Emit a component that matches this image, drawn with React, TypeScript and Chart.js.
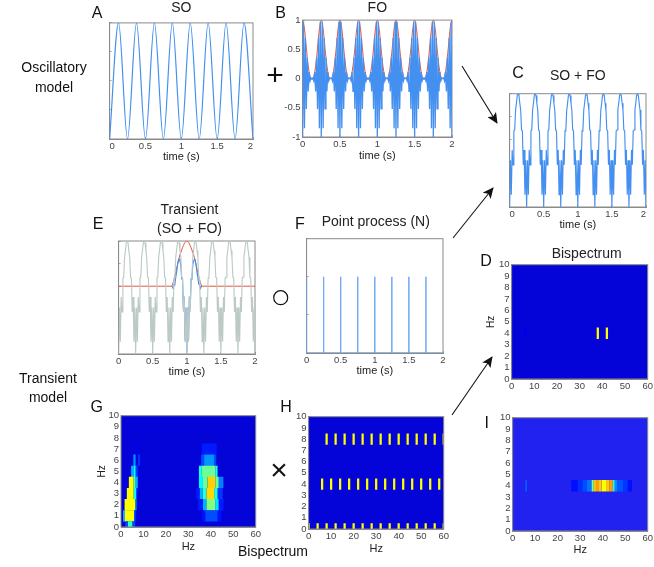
import React, { useEffect, useRef } from "react";
import { Chart, registerables } from "chart.js";

Chart.register(...registerables);

const BLUE = "#4490f0";
const RED = "#e2583c";
const GRAY_TRACE = "#bccac6";
const FRAME = "#8a8a8a";
const FONT = "'Liberation Sans', Arial, sans-serif";

const SO_TIME = [0, 0.125, 0.25, 0.375, 0.5, 0.625, 0.75, 0.875, 1, 1.125, 1.25, 1.375, 1.5, 1.625, 1.75, 1.875, 2];
const SO_VALUES = [-1, 1, -1, 1, -1, 1, -1, 1, -1, 1, -1, 1, -1, 1, -1, 1, -1];

const FO_STEP = 0.0125;
const FO_VALUES = [
  -1, 0.97, -0.85, 0.7, -0.52, 0.36, -0.22, 0.11, -0.04, 0.01, 0, 0.01, -0.04, 0.11, -0.22, 0.36, -0.52, 0.7, -0.85, 0.97,
  -1, 0.97, -0.85, 0.7, -0.52, 0.36, -0.22, 0.11, -0.04, 0.01, 0, 0.01, -0.04, 0.11, -0.22, 0.36, -0.52, 0.7, -0.85, 0.97,
  -1, 0.97, -0.85, 0.7, -0.52, 0.36, -0.22, 0.11, -0.04, 0.01, 0, 0.01, -0.04, 0.11, -0.22, 0.36, -0.52, 0.7, -0.85, 0.97,
  -1, 0.97, -0.85, 0.7, -0.52, 0.36, -0.22, 0.11, -0.04, 0.01, 0, 0.01, -0.04, 0.11, -0.22, 0.36, -0.52, 0.7, -0.85, 0.97,
  -1, 0.97, -0.85, 0.7, -0.52, 0.36, -0.22, 0.11, -0.04, 0.01, 0, 0.01, -0.04, 0.11, -0.22, 0.36, -0.52, 0.7, -0.85, 0.97,
  -1, 0.97, -0.85, 0.7, -0.52, 0.36, -0.22, 0.11, -0.04, 0.01, 0, 0.01, -0.04, 0.11, -0.22, 0.36, -0.52, 0.7, -0.85, 0.97,
  -1, 0.97, -0.85, 0.7, -0.52, 0.36, -0.22, 0.11, -0.04, 0.01, 0, 0.01, -0.04, 0.11, -0.22, 0.36, -0.52, 0.7, -0.85, 0.97,
  -1, 0.97, -0.85, 0.7, -0.52, 0.36, -0.22, 0.11, -0.04, 0.01, 0, 0.01, -0.04, 0.11, -0.22, 0.36, -0.52, 0.7, -0.85, 0.97,
  -1,
];

const ENV_STEP = 0.025;
const FO_ENVELOPE = [
  1, 0.85, 0.52, 0.22, 0.04, 0, 0.04, 0.22, 0.52, 0.85,
  1, 0.85, 0.52, 0.22, 0.04, 0, 0.04, 0.22, 0.52, 0.85,
  1, 0.85, 0.52, 0.22, 0.04, 0, 0.04, 0.22, 0.52, 0.85,
  1, 0.85, 0.52, 0.22, 0.04, 0, 0.04, 0.22, 0.52, 0.85,
  1, 0.85, 0.52, 0.22, 0.04, 0, 0.04, 0.22, 0.52, 0.85,
  1, 0.85, 0.52, 0.22, 0.04, 0, 0.04, 0.22, 0.52, 0.85,
  1, 0.85, 0.52, 0.22, 0.04, 0, 0.04, 0.22, 0.52, 0.85,
  1, 0.85, 0.52, 0.22, 0.04, 0, 0.04, 0.22, 0.52, 0.85,
  1,
];

const SUM_VALUES = [
  -1.5, -0.47, -1.23, -0.24, -0.57, 0.18, 0.2, 0.64, 0.79, 0.96, 1, 0.96, 0.79, 0.64, 0.2, 0.18, -0.57, -0.24, -1.23, -0.47,
  -1.5, -0.47, -1.23, -0.24, -0.57, 0.18, 0.2, 0.64, 0.79, 0.96, 1, 0.96, 0.79, 0.64, 0.2, 0.18, -0.57, -0.24, -1.23, -0.47,
  -1.5, -0.47, -1.23, -0.24, -0.57, 0.18, 0.2, 0.64, 0.79, 0.96, 1, 0.96, 0.79, 0.64, 0.2, 0.18, -0.57, -0.24, -1.23, -0.47,
  -1.5, -0.47, -1.23, -0.24, -0.57, 0.18, 0.2, 0.64, 0.79, 0.96, 1, 0.96, 0.79, 0.64, 0.2, 0.18, -0.57, -0.24, -1.23, -0.47,
  -1.5, -0.47, -1.23, -0.24, -0.57, 0.18, 0.2, 0.64, 0.79, 0.96, 1, 0.96, 0.79, 0.64, 0.2, 0.18, -0.57, -0.24, -1.23, -0.47,
  -1.5, -0.47, -1.23, -0.24, -0.57, 0.18, 0.2, 0.64, 0.79, 0.96, 1, 0.96, 0.79, 0.64, 0.2, 0.18, -0.57, -0.24, -1.23, -0.47,
  -1.5, -0.47, -1.23, -0.24, -0.57, 0.18, 0.2, 0.64, 0.79, 0.96, 1, 0.96, 0.79, 0.64, 0.2, 0.18, -0.57, -0.24, -1.23, -0.47,
  -1.5, -0.47, -1.23, -0.24, -0.57, 0.18, 0.2, 0.64, 0.79, 0.96, 1, 0.96, 0.79, 0.64, 0.2, 0.18, -0.57, -0.24, -1.23, -0.47,
  -1.5,
];

const TRANSIENT_START = 0.775;
const TRANSIENT_VALUES = [
  0, -0.01, -0.05, 0.03, 0.04, 0.19, 0.3, 0.45, 0.56, 0.6, 0.55, 0.47, 0.16, 0.15, -0.51, -0.23, -1.19, -0.47,
  -1.5,
  -0.47, -1.19, -0.23, -0.51, 0.15, 0.16, 0.47, 0.55, 0.6, 0.56, 0.45, 0.3, 0.19, 0.04, 0.03, -0.05, -0.01, 0,
];
const WINDOW_TIME = [0, 0.775, 0.8, 0.825, 0.85, 0.875, 0.9, 0.925, 0.95, 0.975, 1, 1.025, 1.05, 1.075, 1.1, 1.125, 1.15, 1.175, 1.2, 1.225, 2];
const WINDOW_VALUES = [0, 0, 0.08, 0.22, 0.38, 0.56, 0.69, 0.8, 0.9, 0.97, 1, 0.97, 0.9, 0.8, 0.69, 0.56, 0.38, 0.22, 0.08, 0, 0];

const SPIKE_TIMES = [0, 0.25, 0.5, 0.75, 1, 1.25, 1.5, 1.75];
const SPIKE_HEIGHT = 1;

// Bispectrum runs: [row frequency, from Hz, to Hz, colour level 0..1]
const D_RUNS = [
  [4, 5.5, 6.5, 0.1],
  [4, 37.5, 38.5, 0.625],
  [4, 41.5, 42.5, 0.625],
];
const G_RUNS = [
  [0, 2, 3, 0.2], [0, 3, 5, 0.42], [0, 5, 6.3, 0.2],
  [1, 1, 1.6, 0.35], [1, 1.6, 5.8, 0.625], [1, 5.8, 6.5, 0.2],
  [2, 1.6, 6.3, 0.625], [2, 6.3, 7, 0.25],
  [3, 2.6, 5.6, 0.625], [3, 5.6, 6.8, 0.38], [3, 6.8, 7.3, 0.15],
  [4, 3.5, 5.6, 0.625], [4, 5.6, 6.5, 0.45], [4, 6.5, 7.5, 0.3],
  [5, 4.5, 5.5, 0.3], [5, 5.5, 6.5, 0.38], [5, 6.5, 7.5, 0.18],
  [6, 5.5, 6.5, 0.27], [6, 7.5, 8.5, 0.17],
  [7, 6.5, 7.5, 0.11],
  [1, 36, 37.5, 0.14], [1, 37.5, 43, 0.2], [1, 43, 44.8, 0.14],
  [2, 34.3, 36.5, 0.15], [2, 36.5, 38, 0.3], [2, 38, 42, 0.5], [2, 42, 43.5, 0.35], [2, 43.5, 45.7, 0.15],
  [3, 33.5, 35, 0.15], [3, 35, 36.5, 0.3], [3, 36.5, 38, 0.42], [3, 38, 41.5, 0.66], [3, 41.5, 43, 0.4], [3, 43, 45.3, 0.18],
  [4, 34.7, 36.5, 0.37], [4, 36.5, 38.5, 0.48], [4, 38.5, 42, 0.67], [4, 42, 43.5, 0.48], [4, 43.5, 45.6, 0.25],
  [5, 34.7, 36, 0.4], [5, 36, 42, 0.48], [5, 42, 43, 0.4],
  [6, 35.7, 37, 0.2], [6, 37, 41.5, 0.27], [6, 41.5, 42.4, 0.2],
  [7, 36, 42.6, 0.15],
];
const H_ROW0_HZ = [0, 4, 8, 12, 16, 20, 24, 28, 32, 36, 40, 44, 48, 52, 56, 60];
const H_ROW4_HZ = [6, 10, 14, 18, 22, 26, 30, 34, 38, 42, 46, 50, 54, 58];
const H_ROW8_HZ = [8, 12, 16, 20, 24, 28, 32, 36, 40, 44, 48, 52, 56, 60];
const H_LEVEL = 0.625;
const I_RUNS = [
  [4, 5.7, 6.3, 0.23],
  [4, 26, 29, 0.14], [4, 29, 31, 0.17], [4, 31, 33, 0.2], [4, 33, 35, 0.24], [4, 35, 36, 0.5], [4, 36, 37, 0.68],
  [4, 37, 38, 0.72], [4, 38, 39.5, 0.68], [4, 39.5, 41.5, 0.62], [4, 41.5, 43, 0.68], [4, 43, 44.5, 0.72],
  [4, 44.5, 45.3, 0.4], [4, 45.3, 46.5, 0.26], [4, 46.5, 49, 0.21], [4, 49, 51, 0.18], [4, 51, 53, 0.14],
];

const HZ_TICKS_X = 10;
const HZ_TICKS_Y = 1;

const clamp = (v: number) => Math.max(0, Math.min(1, v));
const jet = (v: number) => {
  const c = (d: number) => Math.round(255 * clamp(1.5 - Math.abs(4 * v - d)));
  return `rgb(${c(3)},${c(2)},${c(1)})`;
};

const xy = (xs: number[], ys: number[]) => xs.map((x, i) => ({ x, y: ys[i] }));
const sampled = (start: number, step: number, ys: number[]) => ys.map((y, i) => ({ x: start + i * step, y }));

const line = (data: any[], color: string, width: number, smooth = false) => ({
  data,
  borderColor: color,
  borderWidth: width,
  showLine: true,
  pointRadius: 0,
  ...(smooth ? { cubicInterpolationMode: "monotone" } : {}),
});

const heat = (runs: number[][], cellPx: number) =>
  runs.map(([y, a, b, level]) => ({
    data: [{ x: a, y }, { x: b, y }],
    borderColor: jet(level),
    borderWidth: cellPx,
    showLine: true,
    pointRadius: 0,
    clip: 0,
  }));

const marks = (y: number, hz: number[]) => hz.map((f) => [y, f - 0.5, f + 0.5, H_LEVEL]);

const spikeData = SPIKE_TIMES.flatMap((t) => [{ x: t, y: 0 }, { x: t, y: SPIKE_HEIGHT }, { x: t, y: 0 }]).concat([{ x: 2, y: 0 }]);

type PanelSpec = {
  key: string; x: number; y: number; w: number; h: number;
  datasets: any[]; xMax: number; xStep: number; yMin: number; yMax: number; yStep: number;
  yLabels?: boolean; yTitle?: string; xTitle?: string; inner?: boolean;
  title?: string | string[]; titlePad?: number; titleDx?: number; bg?: string; xh: number; yw?: number;
};

const TIME = { xMax: 2, xStep: 0.5 };
const HZ = { xMax: 60, xStep: HZ_TICKS_X, yMin: 0, yMax: 10, yStep: HZ_TICKS_Y, yLabels: true };
const CELL = 11.4;

const PANELS: PanelSpec[] = [
  { key: "A", x: 109.3, y: 22.7, w: 143, h: 115.6, ...TIME, yMin: -1, yMax: 1, yStep: 0.5, inner: true, xTitle: "time (s)", title: "SO", titlePad: 5, xh: 25,
    datasets: [line(xy(SO_TIME, SO_VALUES), BLUE, 1.2, true)] },
  { key: "B", x: 302.3, y: 20, w: 149.4, h: 117.3, ...TIME, yMin: -1, yMax: 1, yStep: 0.5, yLabels: true, xTitle: "time (s)", title: "FO", titlePad: 2.2, xh: 26,
    datasets: [line(sampled(0, FO_STEP, FO_VALUES), BLUE, 1.3), line(sampled(0, ENV_STEP, FO_ENVELOPE), RED, 1, true)] },
  { key: "C", x: 510, y: 94, w: 136, h: 113.3, ...TIME, yMin: -1.5, yMax: 1, yStep: 0.5, inner: true, xTitle: "time (s)", title: "SO + FO", titlePad: 7.8, xh: 25,
    datasets: [line(sampled(0, FO_STEP, SUM_VALUES), BLUE, 1.15)] },
  { key: "D", x: 511.3, y: 264.3, w: 137, h: 114, ...HZ, yTitle: "Hz", title: "Bispectrum", titlePad: 0.8, titleDx: 7, bg: "#0404d8", xh: 20,
    datasets: heat(D_RUNS, CELL) },
  { key: "E", x: 118.3, y: 240.7, w: 136.7, h: 112.6, ...TIME, yMin: -1.5, yMax: 1, yStep: 0.5, xTitle: "time (s)", title: ["Transient", "(SO + FO)"], titlePad: 2.2, titleDx: 2.7, xh: 25,
    datasets: [line(sampled(0, FO_STEP, SUM_VALUES), GRAY_TRACE, 1.15), line(sampled(TRANSIENT_START, FO_STEP, TRANSIENT_VALUES), BLUE, 1.15), line(xy(WINDOW_TIME, WINDOW_VALUES), RED, 1, true)] },
  { key: "F", x: 307, y: 238.3, w: 136.3, h: 114.4, ...TIME, yMin: 0, yMax: 1.5, yStep: 0.5, xTitle: "time (s)", title: "Point process (N)", titlePad: 6.8, titleDx: 1, xh: 25,
    datasets: [line(spikeData, "#6ba6f2", 1)] },
  { key: "G", x: 120.7, y: 414, w: 136, h: 113.3, ...HZ, yTitle: "Hz", xTitle: "Hz", bg: "#0404d8", xh: 27, yw: 25,
    datasets: heat(G_RUNS, CELL) },
  { key: "H", x: 308.7, y: 415.3, w: 136.3, h: 114, ...HZ, xTitle: "Hz", bg: "#0404d8", xh: 27,
    datasets: heat([...marks(0, H_ROW0_HZ), ...marks(4, H_ROW4_HZ), ...marks(8, H_ROW8_HZ)], CELL) },
  { key: "I", x: 512.3, y: 415.7, w: 136, h: 115, ...HZ, xTitle: "Hz", bg: "#2222f0", xh: 26,
    datasets: heat(I_RUNS, CELL) },
];

const TITLE_LINE = 18.9;

const LABELS: [string, number, number, number][] = [
  ["A", 97, 13, 16], ["B", 280.7, 13, 16], ["C", 518, 72.7, 16], ["D", 486, 260.7, 16], ["E", 98, 224, 16],
  ["F", 300, 224, 16], ["G", 96.7, 406.7, 16], ["H", 286, 406.7, 16], ["I", 486.7, 422.7, 16],
  ["+", 275, 75, 30], ["×", 279, 470, 30],
  ["Oscillatory", 54, 67, 14], ["model", 54, 87, 14], ["Transient", 48, 378, 14], ["model", 48, 397, 14],
  ["Bispectrum", 273, 551, 14],
];

const ARROWS = [
  [462, 66, 497, 123],
  [453, 238, 493, 188],
  [452, 415, 492, 357],
];

const numberLabel = (v: any) => String(v);

function buildChart(canvas: HTMLCanvasElement, p: PanelSpec, yW: number) {
  const titleLines = Array.isArray(p.title) ? p.title : p.title ? [p.title] : [];
  const drawFrame = (chart: any) => {
    const a = chart.chartArea;
    chart.ctx.save();
    chart.ctx.strokeStyle = FRAME;
    chart.ctx.lineWidth = 1;
    chart.ctx.strokeRect(a.left, a.top, a.right - a.left, a.bottom - a.top);
    chart.ctx.restore();
  };
  const plugin = {
    id: "panelFrame",
    afterLayout(chart: any) {
      if (chart.titleBlock && p.titleDx) {
        chart.titleBlock.left += p.titleDx;
        chart.titleBlock.right += p.titleDx;
      }
    },
    beforeDatasetsDraw(chart: any) {
      if (!p.bg) {
        drawFrame(chart);
        return;
      }
      const a = chart.chartArea;
      chart.ctx.save();
      chart.ctx.fillStyle = p.bg;
      chart.ctx.fillRect(a.left, a.top, a.right - a.left, a.bottom - a.top);
      chart.ctx.restore();
    },
    afterDatasetsDraw(chart: any) {
      if (p.bg) drawFrame(chart);
    },
  };
  const grid = { drawOnChartArea: false, tickLength: -2, tickColor: FRAME, tickWidth: 0.8 };
  return new Chart(canvas, {
    type: "scatter",
    data: { datasets: p.datasets },
    plugins: [plugin],
    options: {
      animation: false,
      responsive: false,
      devicePixelRatio: 1,
      layout: { padding: { top: titleLines.length ? 0 : 8, right: 8, left: 0, bottom: 0 } },
      plugins: {
        legend: { display: false },
        tooltip: { enabled: false },
        title: {
          display: titleLines.length > 0,
          text: titleLines,
          fullSize: false,
          color: "#222",
          font: { family: FONT, size: 14, weight: "normal", lineHeight: 1.35 },
          padding: { top: 0, bottom: p.titlePad ?? 0 },
        },
      },
      scales: {
        x: {
          type: "linear",
          min: 0,
          max: p.xMax,
          grid,
          border: { color: FRAME },
          afterFit: (s: any) => { s.height = p.xh; },
          title: { display: !!p.xTitle, text: p.xTitle, color: "#222", padding: 0, font: { family: FONT, size: 11, lineHeight: 1.2 } },
          ticks: {
            stepSize: p.xStep, autoSkip: false, maxRotation: 0, minRotation: 0, padding: 4, callback: numberLabel,
            align: p.inner ? "inner" : "center", color: "#444", font: { family: FONT, size: 9.5 },
          },
        },
        y: {
          type: "linear",
          min: p.yMin,
          max: p.yMax,
          grid,
          border: { color: FRAME },
          afterFit: (s: any) => { s.width = yW; },
          title: { display: !!p.yTitle, text: p.yTitle, color: "#222", padding: 0, font: { family: FONT, size: 10, lineHeight: 1.2 } },
          ticks: {
            display: !!p.yLabels, stepSize: p.yStep, autoSkip: false, padding: 4, color: "#444", callback: numberLabel,
            font: { family: FONT, size: 9.5 },
          },
        },
      },
    },
  } as any);
}

function Panel({ p }: { p: PanelSpec }) {
  const ref = useRef<HTMLCanvasElement | null>(null);
  const lines = Array.isArray(p.title) ? p.title.length : p.title ? 1 : 0;
  const head = lines ? lines * TITLE_LINE + (p.titlePad ?? 0) : 8;
  const yW = p.yw ?? 26.6;
  useEffect(() => {
    const chart = buildChart(ref.current!, p, yW);
    return () => chart.destroy();
  }, []);
  return (
    <canvas
      ref={ref}
      width={Math.round(yW + p.w + 8)}
      height={Math.round(head + p.h + p.xh)}
      style={{ position: "absolute", left: p.x - yW, top: p.y - head, filter: "blur(0.45px)" }}
    />
  );
}

export default function App() {
  return (
    <div style={{ position: "fixed", left: 0, top: 0, width: 654, height: 567, overflow: "hidden", background: "#fff", fontFamily: FONT }}>
      {PANELS.map((p) => <Panel key={p.key} p={p} />)}
      <svg width={654} height={567} style={{ position: "absolute", left: 0, top: 0, pointerEvents: "none" }}>
        <defs>
          <marker id="head" markerWidth="11" markerHeight="10" refX="10" refY="5" orient="auto" markerUnits="userSpaceOnUse">
            <path d="M0,0 L11,5 L0,10 L2.5,5 Z" fill="#111" />
          </marker>
        </defs>
        {ARROWS.map(([a, b, c, d], i) => (
          <line key={i} x1={a} y1={b} x2={c} y2={d} stroke="#111" strokeWidth={1.1} markerEnd="url(#head)" />
        ))}
        <circle cx={280.7} cy={297.7} r={7} fill="none" stroke="#111" strokeWidth={1.2} />
      </svg>
      {LABELS.map(([t, x, y, s], i) => (
        <div key={i} style={{ position: "absolute", left: x - 60, top: y - s, width: 120, height: s * 2, lineHeight: `${s * 2}px`, textAlign: "center", fontSize: s, color: "#111", whiteSpace: "nowrap" }}>
          {t}
        </div>
      ))}
    </div>
  );
}
